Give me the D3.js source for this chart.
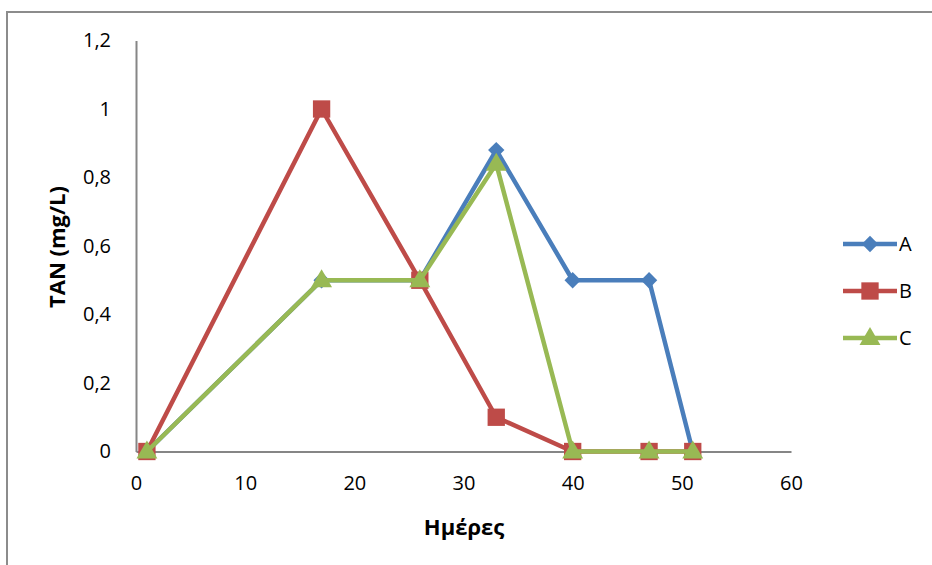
<!DOCTYPE html>
<html>
<head>
<meta charset="utf-8">
<script src="https://cdn.jsdelivr.net/npm/d3@7"></script>
<style>
  html, body { margin: 0; padding: 0; background: #fff; }
  svg { display: block; font-family: "Open Sans", "Liberation Sans", sans-serif; }
</style>
</head>
<body>
<svg id="chart" width="932" height="565"></svg>
<script>
// Days of sampling
const days = [1, 17, 26, 33, 40, 47, 51];
// TAN concentration (mg/L) per series
const seriesA = [0, 0.5, 0.5, 0.88, 0.5, 0.5, 0];
const seriesB = [0, 1, 0.5, 0.1, 0, 0, 0];
const seriesC = [0, 0.5, 0.5, 0.84, 0, 0, 0];
const seriesNames = ["A", "B", "C"];
const seriesColors = ["#4A7EBB", "#BE4B48", "#98B954"];
const xTicks = [0, 10, 20, 30, 40, 50, 60];
const yTicks = [0, 0.2, 0.4, 0.6, 0.8, 1, 1.2];
const xTitle = "Ημέρες";
const yTitle = "TAN (mg/L)";

const svg = d3.select("#chart");

// Outer chart frame
svg.append("rect")
  .attr("x", 7).attr("y", 12)
  .attr("width", 940).attr("height", 580)
  .attr("fill", "none")
  .attr("stroke", "#8c8c8c")
  .attr("stroke-width", 2);

const x = d3.scaleLinear().domain([0, 60]).range([136, 791]);
const y = d3.scaleLinear().domain([0, 1.2]).range([451.5, 40.5]);

const fmt = d => d3.format("")(Math.round(d * 10) / 10).replace(".", ",");

// Y axis
const yAxis = svg.append("g")
  .attr("transform", `translate(${x(0)},0)`)
  .call(d3.axisLeft(y).tickValues(yTicks).tickSize(0).tickPadding(25).tickFormat(fmt));
yAxis.select(".domain").attr("stroke", "#868686").attr("stroke-width", 2);
yAxis.selectAll("text")
  .attr("font-size", 20).attr("fill", "#000")
  .attr("font-family", "'Open Sans', 'Liberation Sans', sans-serif");

// X axis
const xAxis = svg.append("g")
  .attr("transform", `translate(0,${y(0)})`)
  .call(d3.axisBottom(x).tickValues(xTicks).tickSize(0).tickPadding(24).tickFormat(d3.format("")));
xAxis.select(".domain").attr("stroke", "#868686").attr("stroke-width", 2);
xAxis.selectAll("text")
  .attr("font-size", 20).attr("fill", "#000")
  .attr("font-family", "'Open Sans', 'Liberation Sans', sans-serif");

// Axis titles
svg.append("text")
  .attr("x", 464).attr("y", 535)
  .attr("text-anchor", "middle")
  .attr("font-size", 22).attr("font-weight", "bold")
  .text(xTitle);

svg.append("text")
  .attr("transform", "translate(65,247) rotate(-90)")
  .attr("text-anchor", "middle")
  .attr("font-size", 22).attr("font-weight", "bold")
  .text(yTitle);

// Marker shapes per series
const markerTypes = [d3.symbolDiamond2, d3.symbolSquare, d3.symbolTriangle];
const markerSizes = [170, 300, 190];

function drawMarker(g, i, cx, cy) {
  const sym = d3.symbol().type(markerTypes[i]).size(markerSizes[i]);
  g.append("path")
    .attr("d", sym())
    .attr("transform", `translate(${cx},${cy + (i === 2 ? 1 : 0)})`)
    .attr("fill", seriesColors[i]);
}

const allSeries = [seriesA, seriesB, seriesC];
const line = d3.line()
  .x(d => x(d[0]))
  .y(d => y(d[1]));

allSeries.forEach((vals, i) => {
  const pts = days.map((d, k) => [d, vals[k]]);
  const g = svg.append("g");
  g.append("path")
    .datum(pts)
    .attr("d", line)
    .attr("fill", "none")
    .attr("stroke", seriesColors[i])
    .attr("stroke-width", 4.5)
    .attr("stroke-linejoin", "round");
  pts.forEach(p => drawMarker(g, i, x(p[0]), y(p[1])));
});

// Legend
const legendY = [244, 291, 338];
seriesNames.forEach((name, i) => {
  const g = svg.append("g");
  g.append("line")
    .attr("x1", 843).attr("x2", 897)
    .attr("y1", legendY[i]).attr("y2", legendY[i])
    .attr("stroke", seriesColors[i])
    .attr("stroke-width", 4.5);
  drawMarker(g, i, 870, legendY[i]);
  g.append("text")
    .attr("x", 899).attr("y", legendY[i] + 7)
    .attr("font-size", 20)
    .text(name);
});
</script>
</body>
</html>
